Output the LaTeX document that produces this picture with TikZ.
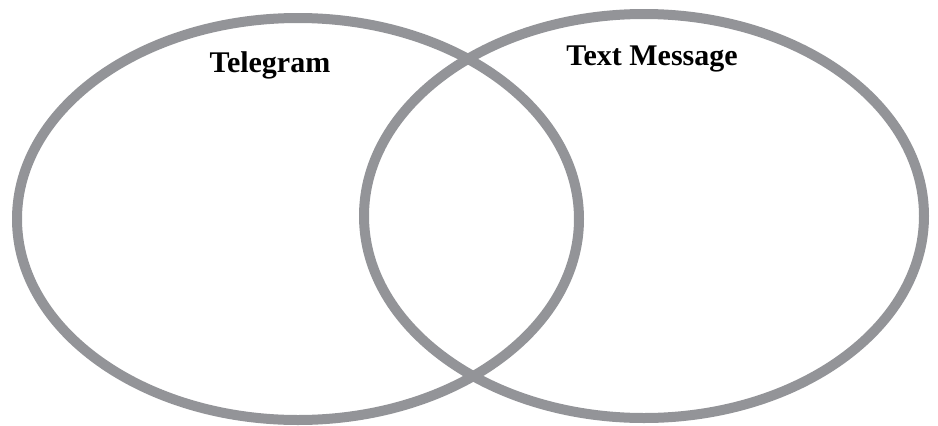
\documentclass[tikz,border=0pt]{standalone}
\usepackage{fontspec}
\setmainfont{Liberation Serif}
\definecolor{ringgray}{RGB}{147,148,152}
\begin{document}
\begin{tikzpicture}[x=1pt,y=-1pt,line join=round,line cap=round,font=\fontsize{30}{36}\selectfont\bfseries]
	\def\lw{10pt}
	\useasboundingbox (0,0) rectangle (938,426);
	\draw[ringgray,line width=\lw] (298,219) ellipse [x radius=281pt,y radius=201pt];
	\draw[ringgray,line width=\lw] (644,216) ellipse [x radius=280pt,y radius=202pt];
	\node[anchor=base] (tele) at (270,72) {Telegram};
	\node[anchor=base] (text) at (652,65) {Text Message};
\end{tikzpicture}
\end{document}
